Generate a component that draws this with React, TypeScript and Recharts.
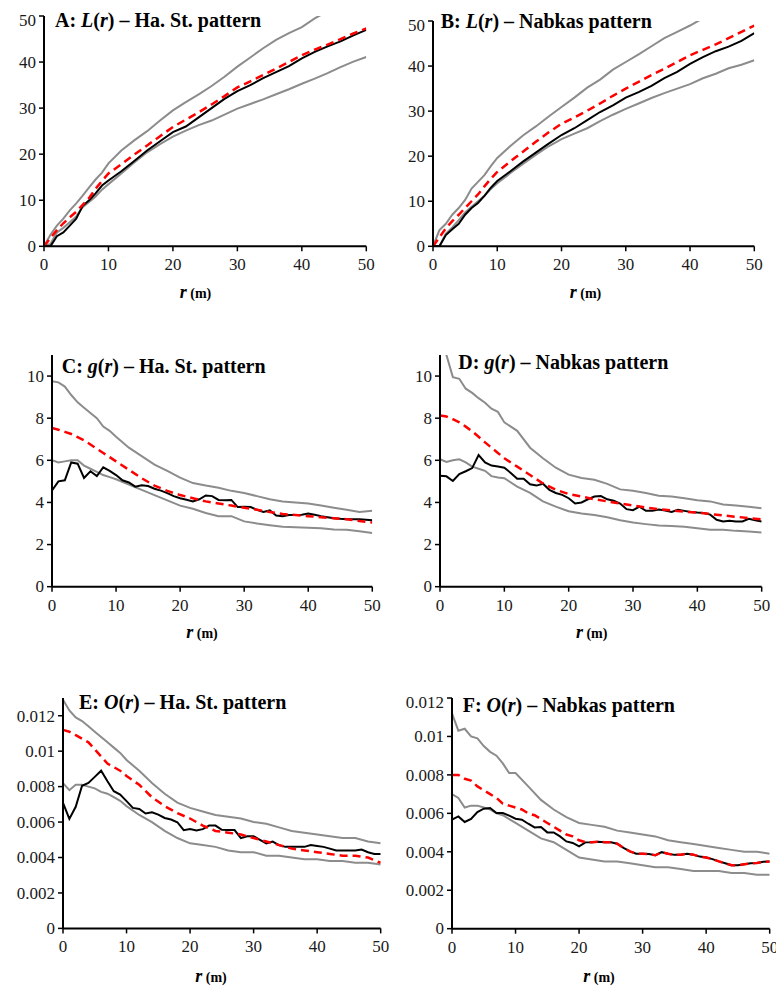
import React from 'react';
import { LineChart, Line, XAxis, YAxis } from 'recharts';

// ---------- data ----------
const rEnv = [0, 1, 2, 3, 4, 5, 6, 7, 8, 9, 10, 12, 14, 16, 18, 20, 22, 24, 26, 28, 30, 32, 34, 36, 38, 40, 42, 44, 46, 48, 50];
const rObs = [0, 1, 2, 3, 4, 5, 6, 7, 8, 9, 10, 11, 12, 13, 14, 15, 16, 17, 18, 19, 20, 21, 22, 23, 24, 25, 26, 27, 28, 29, 30, 31, 32, 33, 34, 35, 36, 37, 38, 39, 40, 41, 42, 43, 44, 45, 46, 47, 48, 49, 50];

const xTicks = [0, 10, 20, 30, 40, 50];
const lTicks = [0, 10, 20, 30, 40, 50];
const gTicks = [0, 2, 4, 6, 8, 10];
const oTicks = [0, 0.002, 0.004, 0.006, 0.008, 0.01, 0.012];

// A: L(r) – Ha. St.
const aUpper = [0, 2.5, 4.5, 6, 7.8, 9.3, 11, 12.8, 14.5, 16, 18, 20.8, 23, 25, 27.3, 29.5, 31.3, 33, 34.8, 36.8, 39, 41, 43, 44.8, 46.3, 47.6, 49.5, 51, 52.5, 54, 55.5];
const aCsr = [0, 1.8, 3.5, 5, 6.3, 7.5, 9, 10.5, 12.5, 14.2, 15.8, 17.8, 19.9, 21.9, 23.9, 25.9, 27.5, 29.1, 30.8, 32.6, 34.5, 35.8, 37.2, 38.6, 40, 41.5, 42.7, 43.8, 45, 46.2, 47.3];
const aObs = [0, 0, 2.2, 3, 4.5, 6, 8.8, 10, 11.5, 13.2, 14.3, 16.3, 18.5, 20.8, 22.8, 24.8, 26, 28, 30, 32, 33.7, 35, 36.5, 37.8, 39.1, 40.8, 42.2, 43.4, 44.5, 45.8, 47];
const aLower = [0, 0.5, 3, 4, 5.2, 6.5, 8.5, 9.6, 10.8, 12.3, 13.5, 15.8, 18.2, 20.4, 22.2, 23.8, 25.1, 26.3, 27.3, 28.6, 29.9, 30.9, 31.9, 33, 34.1, 35.3, 36.4, 37.6, 38.9, 40.1, 41.1];

// B: L(r) – Nabkas
const bUpper = [0, 3.6, 5, 7, 8.5, 10.3, 12.8, 14.3, 15.8, 17.8, 19.6, 22.2, 24.6, 26.6, 28.8, 30.9, 33, 35.2, 37, 39.2, 40.9, 42.6, 44.4, 46.2, 47.6, 49, 50.6, 52, 53.4, 54.7, 56];
const bCsr = [0, 2, 4, 5.6, 7, 8.5, 10, 11.5, 13.3, 15, 16.5, 18.8, 21, 23.2, 25.3, 27.2, 28.6, 30.1, 31.7, 33.4, 35, 36.5, 38, 39.4, 40.9, 42.4, 43.6, 44.8, 46.2, 47.6, 49];
const bObs = [0, 0, 2.5, 3.8, 5, 7, 8.5, 9.6, 11.2, 13, 14.5, 16.6, 18.8, 20.8, 22.8, 24.7, 26.2, 28, 29.8, 31.3, 33, 34.2, 35.6, 37.3, 38.7, 40.5, 42, 43.3, 44.3, 45.6, 47.3];
const bLower = [0, 0, 2.8, 4.2, 5.8, 7.5, 8.8, 10, 11.2, 12.7, 14, 16.2, 18.3, 20.3, 22.2, 23.8, 25, 26.2, 27.8, 29.2, 30.5, 31.7, 32.9, 34, 35, 36, 37.3, 38.3, 39.5, 40.3, 41.3];

// C: g(r) – Ha. St.
const cUpper = [9.76, 9.7, 9.5, 9.1, 8.75, 8.5, 8.25, 8.0, 7.6, 7.4, 7.12, 6.6, 6.2, 5.8, 5.5, 5.18, 4.92, 4.8, 4.7, 4.55, 4.45, 4.3, 4.15, 4.05, 4.0, 3.95, 3.85, 3.75, 3.65, 3.55, 3.6];
const cCsr = [7.54, 7.45, 7.35, 7.25, 7.1, 6.95, 6.75, 6.55, 6.35, 6.15, 5.95, 5.55, 5.15, 4.8, 4.55, 4.35, 4.2, 4.05, 3.95, 3.85, 3.75, 3.65, 3.55, 3.45, 3.4, 3.35, 3.3, 3.25, 3.2, 3.12, 3.05];
const cObs = [4.57, 5.0, 5.05, 5.9, 5.84, 5.16, 5.48, 5.25, 5.67, 5.5, 5.3, 5.05, 4.95, 4.75, 4.82, 4.78, 4.65, 4.56, 4.44, 4.3, 4.2, 4.13, 4.05, 4.15, 4.33, 4.3, 4.12, 4.1, 4.12, 3.78, 3.8, 3.78, 3.65, 3.55, 3.62, 3.38, 3.35, 3.4, 3.4, 3.42, 3.47, 3.42, 3.35, 3.3, 3.25, 3.22, 3.2, 3.2, 3.2, 3.18, 3.15];
const cLower = [6.0, 5.9, 5.95, 6.0, 6.0, 5.75, 5.6, 5.45, 5.3, 5.2, 5.1, 4.85, 4.6, 4.35, 4.1, 3.85, 3.7, 3.5, 3.35, 3.35, 3.1, 3.0, 2.92, 2.85, 2.82, 2.8, 2.78, 2.72, 2.7, 2.63, 2.55];

// D: g(r) – Nabkas
const dUpper = [11.8, 11.0, 9.95, 9.87, 9.4, 9.2, 8.95, 8.73, 8.45, 8.3, 7.8, 7.4, 6.6, 6.1, 5.65, 5.32, 5.16, 5.08, 4.88, 4.62, 4.55, 4.45, 4.32, 4.28, 4.2, 4.1, 4.05, 3.9, 3.85, 3.8, 3.72];
const dCsr = [8.13, 8.08, 7.95, 7.8, 7.6, 7.38, 7.12, 6.85, 6.6, 6.35, 6.1, 5.7, 5.3, 4.9, 4.6, 4.4, 4.28, 4.15, 4.05, 3.95, 3.85, 3.76, 3.68, 3.62, 3.56, 3.52, 3.45, 3.38, 3.32, 3.26, 3.2];
const dObs = [5.27, 5.24, 5.02, 5.35, 5.48, 5.63, 6.25, 5.9, 5.75, 5.71, 5.65, 5.4, 5.12, 5.13, 4.86, 4.8, 4.89, 4.6, 4.45, 4.36, 4.2, 3.95, 4.0, 4.15, 4.28, 4.3, 4.15, 4.08, 3.95, 3.68, 3.63, 3.8, 3.6, 3.6, 3.66, 3.62, 3.55, 3.65, 3.6, 3.55, 3.52, 3.5, 3.42, 3.18, 3.1, 3.13, 3.1, 3.1, 3.22, 3.15, 3.1];
const dLower = [6.05, 5.92, 6.0, 6.05, 5.9, 5.7, 5.6, 5.5, 5.25, 5.18, 5.15, 4.75, 4.45, 4.05, 3.8, 3.58, 3.48, 3.4, 3.3, 3.15, 3.05, 2.97, 2.9, 2.88, 2.85, 2.78, 2.7, 2.7, 2.65, 2.62, 2.57];

// E: O(r) – Ha. St.
const eUpper = [0.0129, 0.0123, 0.0119, 0.0117, 0.0114, 0.0111, 0.0108, 0.0105, 0.0102, 0.0099, 0.0095, 0.0089, 0.0082, 0.0076, 0.0071, 0.0068, 0.0066, 0.0064, 0.0063, 0.0062, 0.006, 0.0059, 0.0057, 0.0055, 0.0054, 0.0053, 0.0052, 0.0051, 0.0051, 0.0049, 0.0048];
const eCsr = [0.0112, 0.0111, 0.0109, 0.0107, 0.0105, 0.0101, 0.0097, 0.0093, 0.0091, 0.0089, 0.0086, 0.0081, 0.0074, 0.0069, 0.0065, 0.0062, 0.0058, 0.0055, 0.0054, 0.0053, 0.0051, 0.0049, 0.0047, 0.0045, 0.0044, 0.0043, 0.0042, 0.0041, 0.0041, 0.004, 0.0037];
const eObs = [0.00708, 0.00618, 0.00686, 0.00805, 0.00821, 0.00855, 0.0089, 0.0083, 0.00774, 0.00755, 0.00718, 0.0068, 0.00674, 0.00648, 0.00655, 0.00642, 0.00623, 0.00614, 0.00599, 0.00554, 0.00561, 0.00552, 0.0056, 0.0058, 0.0058, 0.00556, 0.00555, 0.00555, 0.0051, 0.0052, 0.0052, 0.005, 0.0048, 0.0049, 0.0047, 0.0046, 0.0046, 0.0046, 0.0046, 0.0047, 0.00465, 0.0046, 0.0045, 0.0044, 0.0044, 0.0044, 0.0044, 0.00445, 0.0043, 0.0042, 0.0042];
const eLower = [0.0082, 0.0078, 0.0081, 0.0081, 0.008, 0.0079, 0.0077, 0.0076, 0.0074, 0.0072, 0.0069, 0.0064, 0.006, 0.0055, 0.0051, 0.0048, 0.0047, 0.0046, 0.0044, 0.0043, 0.0043, 0.0041, 0.0041, 0.004, 0.0039, 0.0039, 0.0038, 0.0038, 0.0037, 0.0037, 0.0036];

// F: O(r) – Nabkas
const fUpper = [0.0112, 0.0103, 0.0104, 0.01, 0.0099, 0.0095, 0.0092, 0.009, 0.0086, 0.0081, 0.0081, 0.0074, 0.0067, 0.0062, 0.0058, 0.0055, 0.0054, 0.0053, 0.0051, 0.005, 0.0049, 0.0048, 0.0046, 0.0045, 0.0044, 0.0043, 0.0042, 0.0041, 0.004, 0.004, 0.0039];
const fObs = [0.00567, 0.00584, 0.00555, 0.00571, 0.00607, 0.00624, 0.00628, 0.00602, 0.00602, 0.00588, 0.00572, 0.00567, 0.00546, 0.00527, 0.00529, 0.00501, 0.00501, 0.0048, 0.00454, 0.00446, 0.00428, 0.00449, 0.0045, 0.00452, 0.0045, 0.0045, 0.00442, 0.0042, 0.00402, 0.0039, 0.0039, 0.00388, 0.00382, 0.00398, 0.0039, 0.00384, 0.00385, 0.0039, 0.00385, 0.00375, 0.0037, 0.00362, 0.0035, 0.0034, 0.0033, 0.0033, 0.00335, 0.0034, 0.00342, 0.00348, 0.0035];
const fCsr = [0.008, 0.008, 0.0078, 0.0077, 0.0074, 0.0072, 0.007, 0.0068, 0.0065, 0.0064, 0.0063, 0.0062, 0.006, 0.0059, 0.0057, 0.0055, 0.0053, 0.0051, 0.0049, 0.0048, 0.0046, 0.0045, 0.0045, 0.00452, 0.0045, 0.0045, 0.00442, 0.0042, 0.00402, 0.0039, 0.0039, 0.00388, 0.00382, 0.00398, 0.0039, 0.00384, 0.00385, 0.0039, 0.00385, 0.00375, 0.0037, 0.00362, 0.0035, 0.0034, 0.0033, 0.0033, 0.00335, 0.0034, 0.00342, 0.00348, 0.0035];
const fLower = [0.007, 0.0068, 0.0063, 0.0064, 0.0064, 0.0063, 0.0062, 0.006, 0.0059, 0.0057, 0.0055, 0.0051, 0.0047, 0.0045, 0.0041, 0.0037, 0.0036, 0.0035, 0.0035, 0.0034, 0.0033, 0.0032, 0.0032, 0.0031, 0.003, 0.003, 0.003, 0.0029, 0.0029, 0.0028, 0.0028];

// ---------- helpers ----------
const pts = (r: number[], v: number[]) => r.map((x, i) => ({ r: x, v: v[i] }));

const FONT = 'Liberation Serif';
const GRAY = '#8c8c8c';
const TICK_FS = 17;

function XTick(p: any) {
  return (
    <text x={p.x} y={p.y} dy="0.71em" textAnchor="middle" fontFamily={FONT} fontSize={TICK_FS} fill="#1a1a1a">
      {String(p.payload.value)}
    </text>
  );
}

function YTick(p: any) {
  return (
    <text x={p.x} y={p.y} dy="0.34em" textAnchor="end" fontFamily={FONT} fontSize={TICK_FS} fill="#1a1a1a">
      {String(p.payload.value)}
    </text>
  );
}

type Plot = { l: number; r: number; t: number; b: number };

function Panel(props: {
  plot: Plot;
  domain: [number, number];
  yTicks: number[];
  upper: { r: number; v: number }[];
  lower: { r: number; v: number }[];
  obs: { r: number; v: number }[];
  csr: { r: number; v: number }[];
}) {
  const { plot, domain, yTicks } = props;
  const YW = 70, XH = 40, MT = 5, ML = 2, MR = 20;
  const left = plot.l - YW - ML;
  const top = plot.t - MT;
  const width = plot.r + MR - left;
  const height = plot.b + XH - top;
  return (
    <div style={{ position: 'absolute', left, top }}>
      <LineChart width={width} height={height} margin={{ top: MT, left: ML, right: MR, bottom: 0 }}>
        <XAxis
          type="number"
          dataKey="r"
          domain={[0, 50]}
          ticks={xTicks}
          height={XH}
          axisLine={{ stroke: '#000', strokeWidth: 2 }}
          tickLine={{ stroke: '#000', strokeWidth: 1.5 }}
          tickSize={5}
          tickMargin={7}
          tick={<XTick />}
          allowDataOverflow
        />
        <YAxis
          type="number"
          domain={domain}
          ticks={yTicks}
          width={YW}
          allowDataOverflow
          axisLine={{ stroke: '#000', strokeWidth: 2 }}
          tickLine={{ stroke: '#000', strokeWidth: 1.5 }}
          tickSize={5}
          tickMargin={3}
          tick={<YTick />}
        />
        <Line data={props.upper} dataKey="v" stroke={GRAY} strokeWidth={2} dot={false} activeDot={false} isAnimationActive={false} />
        <Line data={props.lower} dataKey="v" stroke={GRAY} strokeWidth={2} dot={false} activeDot={false} isAnimationActive={false} />
        <Line data={props.obs} dataKey="v" stroke="#000" strokeWidth={2} dot={false} activeDot={false} isAnimationActive={false} />
        <Line data={props.csr} dataKey="v" stroke="#ff0000" strokeWidth={2.5} strokeDasharray="8 5" dot={false} activeDot={false} isAnimationActive={false} />
      </LineChart>
    </div>
  );
}

function Title(props: { x: number; y: number; letter: string; fn: string; pattern: string }) {
  return (
    <text x={props.x} y={props.y} fontFamily={FONT} fontWeight="bold" fontSize={20} fill="#000">
      {props.letter + ': '}
      <tspan fontStyle="italic">{props.fn}</tspan>
      (<tspan fontStyle="italic">r</tspan>) – {props.pattern}
    </text>
  );
}

function XLabel(props: { cx: number; y: number }) {
  return (
    <text x={props.cx} y={props.y} textAnchor="middle" fontFamily={FONT} fontWeight="bold" fill="#000">
      <tspan fontStyle="italic" fontSize={18}>r</tspan>
      <tspan fontSize={14}> (m)</tspan>
    </text>
  );
}

export default function App() {
  return (
    <div style={{ position: 'absolute', left: 0, top: 0, width: 776, height: 987, overflow: 'hidden', background: '#fff' }}>
      <Panel plot={{ l: 43.7, r: 366, t: 15.7, b: 246 }} domain={[0, 50]} yTicks={lTicks}
        upper={pts(rEnv, aUpper)} lower={pts(rEnv, aLower)} obs={pts(rEnv, aObs)} csr={pts(rEnv, aCsr)} />
      <Panel plot={{ l: 432.7, r: 754, t: 20.7, b: 246 }} domain={[0, 50]} yTicks={lTicks}
        upper={pts(rEnv, bUpper)} lower={pts(rEnv, bLower)} obs={pts(rEnv, bObs)} csr={pts(rEnv, bCsr)} />
      <Panel plot={{ l: 51.7, r: 372, t: 355, b: 586.7 }} domain={[0, 11]} yTicks={gTicks}
        upper={pts(rEnv, cUpper)} lower={pts(rEnv, cLower)} obs={pts(rObs, cObs)} csr={pts(rEnv, cCsr)} />
      <Panel plot={{ l: 440, r: 761.7, t: 355, b: 586.7 }} domain={[0, 11]} yTicks={gTicks}
        upper={pts(rEnv, dUpper)} lower={pts(rEnv, dLower)} obs={pts(rObs, dObs)} csr={pts(rEnv, dCsr)} />
      <Panel plot={{ l: 63.3, r: 381, t: 698.3, b: 928.7 }} domain={[0, 0.013]} yTicks={oTicks}
        upper={pts(rEnv, eUpper)} lower={pts(rEnv, eLower)} obs={pts(rObs, eObs)} csr={pts(rEnv, eCsr)} />
      <Panel plot={{ l: 452.3, r: 770, t: 698.3, b: 929 }} domain={[0, 0.012]} yTicks={oTicks}
        upper={pts(rEnv, fUpper)} lower={pts(rEnv, fLower)} obs={pts(rObs, fObs)} csr={pts(rObs, fCsr)} />
      <svg width={776} height={987} style={{ position: 'absolute', left: 0, top: 0, pointerEvents: 'none' }}>
        <Title x={55} y={26.5} letter="A" fn="L" pattern="Ha. St. pattern" />
        <Title x={440.7} y={28.3} letter="B" fn="L" pattern="Nabkas pattern" />
        <Title x={61.7} y={373.3} letter="C" fn="g" pattern="Ha. St. pattern" />
        <Title x={458.3} y={369.3} letter="D" fn="g" pattern="Nabkas pattern" />
        <Title x={79} y={709.3} letter="E" fn="O" pattern="Ha. St. pattern" />
        <Title x={462.7} y={711.7} letter="F" fn="O" pattern="Nabkas pattern" />
        <XLabel cx={195.5} y={297.7} />
        <XLabel cx={585.5} y={297.7} />
        <XLabel cx={202} y={638} />
        <XLabel cx={591.7} y={638} />
        <XLabel cx={211} y={981.7} />
        <XLabel cx={599} y={982} />
      </svg>
    </div>
  );
}
